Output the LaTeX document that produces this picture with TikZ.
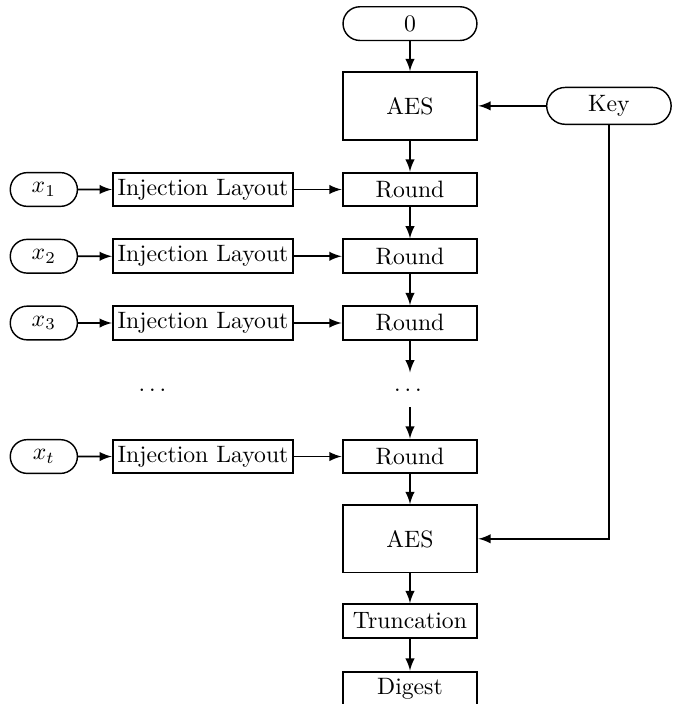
\documentclass[tikz,border=0pt]{standalone}
\usepackage{amsmath}
\usepackage{amssymb}
\usetikzlibrary{shapes,arrows,positioning}
\begin{document}
\begin{tikzpicture}[block/.style={draw,thick,rectangle,minimum width=2cm,minimum height=0.5cm,inner sep=2pt},term/.style={draw,semithick,rounded rectangle,minimum width=1.23cm,minimum height=0.5cm},conn/.style={thick,-latex}]
  \useasboundingbox (0,0) rectangle (9.97,-10.44);
  \node[term,minimum width=2.22cm] (zero) at (6.08,-0.35) {0};
  \node[block,minimum height=1cm] (aes1) at (6.08,-1.57) {AES};
  \node[term,minimum width=2.08cm] (key) at (9.03,-1.57) {Key};
  \foreach \i/\s/\y in {1/1/2.81,2/2/3.8,3/3/4.79,4/t/6.77} {
    \node[term] (x\i) at (0.65,-\y) {$x_{\s}$};
    \node[block] (inj\i) at (3.01,-\y) {Injection Layout};
    \node[block] (round\i) at (6.08,-\y) {Round};
    \draw[conn] (x\i) -- (inj\i);
    \draw[conn] (inj\i) -- (round\i);
  }
  \node[minimum height=0.5cm] (dotsl) at (2.29,-5.78) {$\dots$};
  \node[minimum height=0.5cm] (dotsr) at (6.08,-5.78) {$\dots$};
  \node[block,minimum height=1cm] (aes2) at (6.08,-7.99) {AES};
  \node[block] (trunc) at (6.08,-9.21) {Truncation};
  \node[block] (digest) at (6.08,-10.21) {Digest};
  \draw[conn] (zero) -- (aes1);
  \draw[conn] (key) -- (aes1);
  \draw[conn] (aes1) -- (round1);
  \draw[conn] (round1) -- (round2);
  \draw[conn] (round2) -- (round3);
  \draw[conn] (round3) -- (dotsr);
  \draw[conn] (dotsr) -- (round4);
  \draw[conn] (round4) -- (aes2);
  \draw[conn] (key.south) |- (aes2.east);
  \draw[conn] (aes2) -- (trunc);
  \draw[conn] (trunc) -- (digest);
\end{tikzpicture}
\end{document}
